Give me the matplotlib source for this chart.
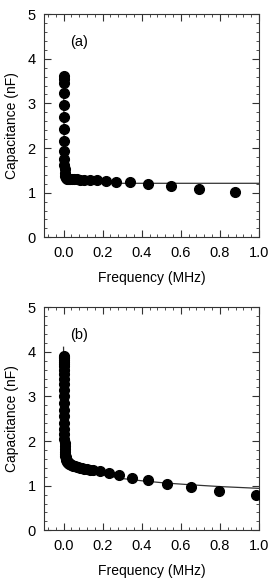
import matplotlib.pyplot as plt
from matplotlib.ticker import MultipleLocator

plt.rcParams['font.family'] = ['Liberation Sans', 'DejaVu Sans']

# panel (a) measured points
freq_a = [0.0005, 0.0006, 0.0008, 0.0010, 0.0012, 0.0015, 0.0019, 0.0024, 0.0030,
          0.0037, 0.0047, 0.0059, 0.0074, 0.0093, 0.0117, 0.0147, 0.018, 0.022,
          0.027, 0.034, 0.042, 0.053, 0.067, 0.085, 0.107, 0.135, 0.170, 0.215,
          0.270, 0.342, 0.433, 0.549, 0.695, 0.879]
cap_a = [3.62, 3.55, 3.45, 3.24, 2.97, 2.70, 2.42, 2.15, 1.93,
         1.76, 1.62, 1.52, 1.44, 1.38, 1.34, 1.32, 1.31, 1.31,
         1.31, 1.30, 1.30, 1.30, 1.30, 1.29, 1.29, 1.29, 1.28, 1.27,
         1.25, 1.23, 1.19, 1.14, 1.08, 1.02]

# panel (a) fit line
fit_freq_a = [0.0, 0.0015, 0.003, 0.005, 0.008, 0.012, 0.02, 0.05, 0.2, 0.5, 1.0]
fit_cap_a = [3.62, 3.0, 2.2, 1.7, 1.45, 1.32, 1.25, 1.22, 1.21, 1.21, 1.21]

# panel (b) measured points
freq_b = [0.0004, 0.0005, 0.0006, 0.0007, 0.0008, 0.0009, 0.0010, 0.0011, 0.0013,
          0.0014, 0.0016, 0.0018, 0.0020, 0.0023, 0.0026, 0.0029, 0.0033, 0.0037,
          0.0042, 0.0047, 0.0053, 0.0060, 0.0067, 0.0075, 0.0085, 0.0095, 0.0107,
          0.012, 0.0135, 0.015, 0.017, 0.019, 0.0215, 0.024, 0.027, 0.030, 0.034,
          0.038, 0.043, 0.048, 0.054, 0.060, 0.068, 0.076, 0.085, 0.096, 0.107,
          0.120, 0.135, 0.152, 0.187, 0.232, 0.285, 0.351, 0.431, 0.530, 0.652,
          0.797, 0.985]
cap_b = [3.90, 3.88, 3.85, 3.82, 3.78, 3.73, 3.67, 3.60, 3.50,
         3.40, 3.28, 3.15, 3.00, 2.85, 2.70, 2.55, 2.40, 2.27,
         2.15, 2.05, 1.96, 1.88, 1.82, 1.76, 1.71, 1.67, 1.64,
         1.61, 1.59, 1.57, 1.55, 1.54, 1.52, 1.51, 1.50, 1.49, 1.48,
         1.47, 1.46, 1.45, 1.44, 1.43, 1.42, 1.41, 1.40, 1.39, 1.38,
         1.37, 1.36, 1.35, 1.33, 1.29, 1.23, 1.18, 1.12, 1.04, 0.97,
         0.88, 0.80]

# panel (b) fit line
fit_freq_b = [0.0, 0.001, 0.002, 0.004, 0.007, 0.012, 0.02, 0.035, 0.06, 0.1, 0.15,
              0.2, 0.3, 0.4, 0.52, 0.65, 0.8, 1.0]
fit_cap_b = [4.10, 3.5, 2.7, 2.1, 1.8, 1.65, 1.56, 1.48, 1.41, 1.34, 1.28,
             1.24, 1.16, 1.11, 1.06, 1.02, 0.98, 0.94]

fig = plt.figure(figsize=(2.75, 5.86), dpi=100)
ax_a = fig.add_axes([0.16, 0.595, 0.782, 0.381])
ax_b = fig.add_axes([0.16, 0.095, 0.782, 0.381])

panels = [
    (ax_a, freq_a, cap_a, fit_freq_a, fit_cap_a, '(a)'),
    (ax_b, freq_b, cap_b, fit_freq_b, fit_cap_b, '(b)'),
]

for ax, f, c, ff, fc, lab in panels:
    ax.plot(ff, fc, color='#333333', lw=0.9, zorder=2)
    ax.plot(f, c, 'o', color='black', ms=7, zorder=3)
    ax.set_xlim(-0.1, 1.0)
    ax.set_ylim(0, 5)
    ax.xaxis.set_major_locator(MultipleLocator(0.2))
    ax.xaxis.set_minor_locator(MultipleLocator(0.04))
    ax.yaxis.set_major_locator(MultipleLocator(1))
    ax.yaxis.set_minor_locator(MultipleLocator(0.2))
    ax.tick_params(which='both', direction='in', top=True, right=True,
                   labelsize=10.5, color='#333333')
    ax.tick_params(which='major', length=5, width=0.8)
    ax.tick_params(axis='x', which='major', pad=6)
    ax.tick_params(axis='y', which='major', pad=6)
    ax.tick_params(which='minor', length=2.5, width=0.6)
    ax.set_xticks([0.0, 0.2, 0.4, 0.6, 0.8, 1.0])
    ax.set_xticklabels(['0.0', '0.2', '0.4', '0.6', '0.8', '1.0'])
    for s in ax.spines.values():
        s.set_linewidth(0.8)
        s.set_color('#333333')
    ax.set_xlabel('Frequency (MHz)', fontsize=10, labelpad=8)
    ax.set_ylabel('Capacitance (nF)', fontsize=10, labelpad=6)
    ax.text(0.12, 0.875, lab, transform=ax.transAxes, fontsize=10.5, va='center')

fig.savefig('out.png', dpi=100)
